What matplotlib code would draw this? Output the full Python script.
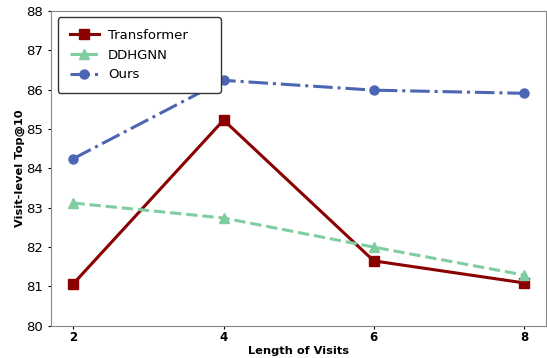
import matplotlib
matplotlib.use('Agg')
import matplotlib.pyplot as plt

visits = [2, 4, 6, 8]
transformer = [81.07, 85.23, 81.65, 81.09]
ddhgnn = [83.12, 82.74, 82.0, 81.29]
ours = [84.25, 86.24, 85.99, 85.91]

fig, ax = plt.subplots(figsize=(5.47, 3.58), dpi=100)
fig.subplots_adjust(left=0.093, right=0.999, top=0.969, bottom=0.09)

ax.plot(visits, transformer, color='#8b0000', marker='s', linestyle='-',
        linewidth=2.2, markersize=6.5, label='Transformer')
ax.plot(visits, ddhgnn, color='#7fcda0', marker='^', linestyle='--',
        linewidth=2.2, markersize=6.5, label='DDHGNN')
ax.plot(visits, ours, color='#4c66b3', marker='o', linestyle='-.',
        linewidth=2.2, markersize=6.5, label='Ours')

ax.set_ylim(80, 88)
ax.set_xticks(visits)
ax.set_xticklabels([str(v) for v in visits], fontweight='bold', fontsize=8.5)
ax.tick_params(axis='y', labelsize=9.5, length=2.5, pad=3)
ax.tick_params(axis='x', length=2.5, pad=1.5)
ax.set_xlabel('Length of Visits', fontweight='bold', fontsize=8.2, labelpad=1)
ax.set_ylabel('Visit-level Top@10', fontweight='bold', fontsize=8.2, labelpad=1)
for s in ax.spines.values():
    s.set_color('#888888')

leg = ax.legend(loc='upper left', fontsize=9.5, borderpad=0.9, labelspacing=0.5,
                handlelength=2.2, handletextpad=0.7, fancybox=True,
                bbox_to_anchor=(0.014, 0.5, 0.329, 0.481), mode='expand',
                borderaxespad=0)
leg.get_frame().set_edgecolor('#333333')
leg.get_frame().set_alpha(1)

fig.savefig('out.png', dpi=100)
